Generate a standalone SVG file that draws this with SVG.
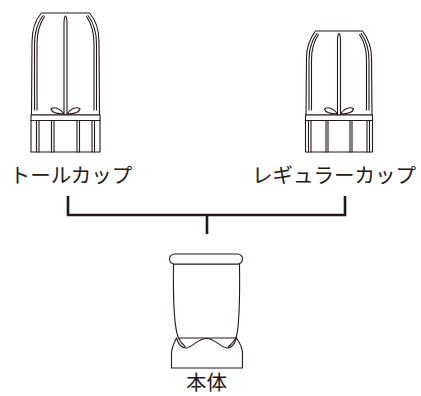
<svg xmlns="http://www.w3.org/2000/svg" width="421" height="396" viewBox="0 0 421 396">
<style>
.ln{fill:none;stroke:#231815;stroke-width:1.1;stroke-linejoin:round;stroke-linecap:round}
.fw{fill:#ffffff;stroke:#231815;stroke-width:1.1;stroke-linejoin:round}
.lbl{font-family:"Noto Sans CJK JP","Noto Sans",sans-serif;font-size:20.5px;fill:#231815;text-anchor:middle}
.con{fill:none;stroke:#231815;stroke-width:2.6}
</style>
<rect width="421" height="396" fill="#ffffff"/>
<g id="tall-cup">
<path class="fw" d="M31.5,115 L32,42 C32,28 37,18 41.5,13 L89.5,13 C94,18 99,28 99,42 L99.5,115 Z"/>
<path class="ln" d="M43,15.5 C38,22 34.5,31 34.5,44 L34.5,110 M44.5,16.5 C40,23 37,32 37,44 L37,110"/>
<path class="ln" d="M88,15.5 C93,22 96.5,31 96.5,44 L96.5,110 M86.5,16.5 C91,23 94,32 94,44 L94,110"/>
<path class="ln" d="M64,115 L64,24 Q64,17 65.5,16 Q67,17 67,24 L67,115"/>
<path class="ln" d="M64,114 C60,108 54,106.5 51,109 C52,112.5 58,114 64,114 Z M67,114 C71,108 77,106.5 80,109 C79,112.5 73,114 67,114 Z"/>
<rect class="fw" x="31" y="115" width="69" height="37"/>
<path class="ln" d="M31,120.5 H100 M36.5,120.5 V152 M39,120.5 V152 M51.5,120.5 V152 M54,120.5 V152 M77,120.5 V152 M79.5,120.5 V152 M92,120.5 V152 M94.5,120.5 V152"/>
<text class="lbl" x="71" y="183">トールカップ</text>
</g>
<g id="regular-cup">
<path class="fw" d="M306,115 L306.5,58 C306.5,46 311,37 315.5,31 L362.5,31 C367,37 371.5,46 371.5,58 L372,115 Z"/>
<path class="ln" d="M317,33.5 C312,40 309,49 309,60 L309,110 M318.5,34.5 C314,41 311.5,50 311.5,60 L311.5,110"/>
<path class="ln" d="M361,33.5 C366,40 369,49 369,60 L369,110 M359.5,34.5 C364,41 366.5,50 366.5,60 L366.5,110"/>
<path class="ln" d="M337.5,115 L337.5,41 Q337.5,34.5 339,33.5 Q340.5,34.5 340.5,41 L340.5,115"/>
<path class="ln" d="M337.5,114 C333.5,108 327.5,106.5 324.5,109 C325.5,112.5 331.5,114 337.5,114 Z M340.5,114 C344.5,108 350.5,106.5 353.5,109 C352.5,112.5 346.5,114 340.5,114 Z"/>
<rect class="fw" x="305.5" y="115" width="67" height="37"/>
<path class="ln" d="M305.5,120.5 H372.5 M308.5,120.5 V152 M311,120.5 V152 M326,120.5 V152 M328,120.5 V152 M350,120.5 V152 M352,120.5 V152 M367,120.5 V152 M369.5,120.5 V152"/>
<text class="lbl" x="334" y="183">レギュラーカップ</text>
</g>
<g id="connectors">
<path class="con" d="M68,196 V215 H345 V196"/>
<path class="con" d="M207,215 V234"/>
</g>
<g id="base-unit">
<path class="fw" d="M173.5,264 C173,300 174,328 178.5,338 L236,338 C239,328 240,300 239.5,264 Z"/>
<path class="fw" d="M176.5,338 C178,343 181,348 186,348 C193,347 198,338.5 206.5,338.5 C215,338.5 220,347 227,348 C232,348 235,343 236.5,338 C239,342 242.5,346 242.5,354 L242.5,368 L171.5,368 L171.5,354 C171.5,346 175,342 176.5,338 Z"/>
<path class="ln" d="M178.5,338 C180,341 182,344 185,346.5 M236,338 C234,341 232,344 228.5,346.5"/>
<rect class="fw" x="169.5" y="254" width="73" height="10" rx="5"/>
<text class="lbl" x="206.5" y="390">本体</text>
</g>
</svg>
